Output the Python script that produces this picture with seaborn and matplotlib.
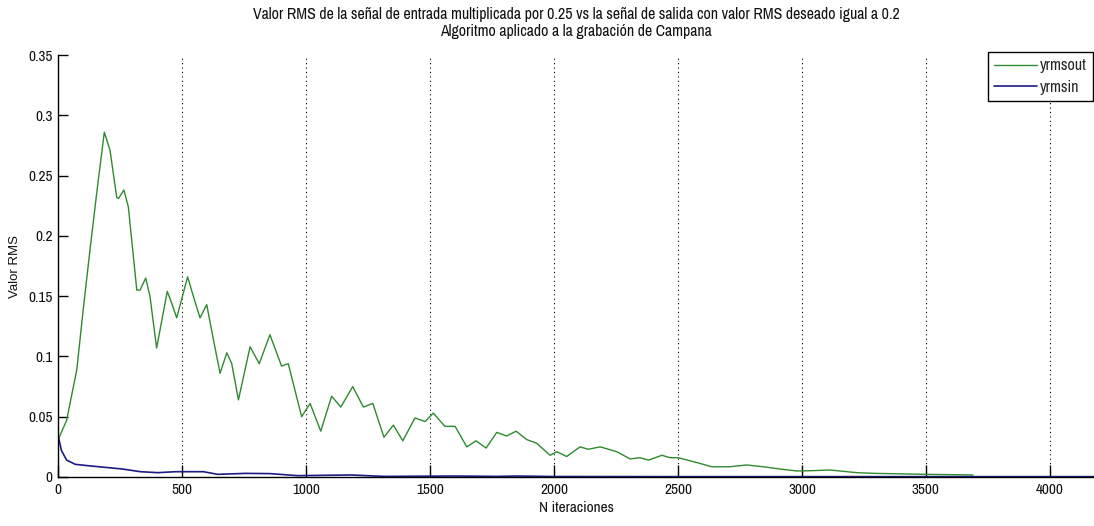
import numpy as np
import pandas as pd
import matplotlib
matplotlib.use("Agg")
import matplotlib.pyplot as plt
from matplotlib import font_manager
import seaborn as sns

# ---- data ----
out_x = [0, 34, 75, 101, 128, 155, 186, 209, 236, 243, 265, 283, 317, 330, 353, 370, 397,
         440, 458, 478, 522, 545, 572, 599, 626, 653, 680, 700, 727, 774, 811, 854, 901, 928,
         982, 1016, 1059, 1103, 1140, 1188, 1231, 1269, 1314, 1352, 1390, 1439, 1480, 1513,
         1560, 1601, 1648, 1685, 1726, 1769, 1809, 1847, 1890, 1930, 1984, 2011, 2051, 2105,
         2138, 2186, 2253, 2307, 2347, 2381, 2435, 2468, 2501, 2576, 2636, 2710, 2777, 2844,
         2912, 2979, 3033, 3113, 3221, 3295, 3503, 3690]
out_y = [0.031, 0.047, 0.089, 0.139, 0.188, 0.235, 0.286, 0.271, 0.232, 0.231, 0.238, 0.224,
         0.155, 0.155, 0.165, 0.150, 0.107, 0.154, 0.144, 0.132, 0.166, 0.150, 0.132, 0.143,
         0.114, 0.086, 0.103, 0.094, 0.064, 0.108, 0.094, 0.118, 0.092, 0.094, 0.050, 0.061,
         0.038, 0.067, 0.058, 0.075, 0.058, 0.061, 0.033, 0.043, 0.030, 0.049, 0.046, 0.053,
         0.042, 0.042, 0.025, 0.030, 0.024, 0.037, 0.034, 0.038, 0.031, 0.028, 0.018, 0.021,
         0.017, 0.025, 0.023, 0.025, 0.021, 0.015, 0.016, 0.014, 0.018, 0.016, 0.016, 0.012,
         0.0085, 0.0085, 0.010, 0.0085, 0.0066, 0.005, 0.0052, 0.0058, 0.0036, 0.003, 0.0022,
         0.0017]

in_x = [0, 13, 34, 69, 119, 190, 260, 331, 402, 473, 586, 643, 756, 855, 967, 1180, 1315,
        1595, 1768, 1852, 2000, 2500, 3000, 3500, 4000, 4255]
in_y = [0.034, 0.022, 0.014, 0.0105, 0.0094, 0.008, 0.0066, 0.0044, 0.0036, 0.0044, 0.0044,
        0.0022, 0.003, 0.0028, 0.0011, 0.0017, 0.0005, 0.0008, 0.0005, 0.0008, 0.0004,
        0.0003, 0.0003, 0.0003, 0.0003, 0.0003]

x_ticks = [0, 500, 1000, 1500, 2000, 2500, 3000, 3500, 4000]
x_ticklabels = ["0", "500", "1000", "1500", "2000", "2500", "3000", "3500", "4000"]
y_ticks = [0, 0.05, 0.1, 0.15, 0.2, 0.25, 0.3, 0.35]
y_ticklabels = ["0", "0.05", "0.1", "0.15", "0.2", "0.25", "0.3", "0.35"]

title = ("Valor RMS de la señal de entrada multiplicada por 0.25 vs la señal de salida con "
         "valor RMS deseado igual a 0.2\nAlgoritmo aplicado a la grabación de Campana")

sns.set_theme(style="white")

# pick a narrow / condensed face if one is installed
narrow = None
narrow_stretch = "normal"
for f in font_manager.fontManager.ttflist:
    n = f.name
    if "Narrow" in n or "Condensed" in n:
        narrow, narrow_stretch = n, "normal"
        break
if narrow is None:
    for f in font_manager.fontManager.ttflist:
        st = f.stretch
        if (isinstance(st, str) and "condensed" in st) or (isinstance(st, (int, float)) and st < 500):
            if f.name in ("DejaVu Sans", "Liberation Sans", "Roboto", "Open Sans", "Noto Sans"):
                narrow, narrow_stretch = f.name, st
                break
if narrow is None:
    narrow, narrow_stretch = "Liberation Sans", "normal"

plt.rcParams['font.family'] = [narrow, 'DejaVu Sans']
plt.rcParams['font.stretch'] = narrow_stretch

fig = plt.figure(figsize=(10.94, 5.26), dpi=100)
W, H = 1094, 526
left, right, top, bottom = 58.2, 1094, 55, 477
ax = fig.add_axes([left / W, 1 - bottom / H, (right - left) / W, (bottom - top) / H])

sns.lineplot(x=out_x, y=out_y, ax=ax, color="#2f8a2f", linewidth=1.0, label="yrmsout",
             estimator=None, sort=False)
sns.lineplot(x=in_x, y=in_y, ax=ax, color="#1c1c85", linewidth=1.2, label="yrmsin",
             estimator=None, sort=False)

ax.set_xlim(0, 4178)
ax.set_ylim(0, 0.35)
ax.set_xticks(x_ticks)
ax.set_xticklabels(x_ticklabels)
ax.set_yticks(y_ticks)
ax.set_yticklabels(y_ticklabels)

for s in ["top", "right"]:
    ax.spines[s].set_visible(False)
for s in ["left", "bottom"]:
    ax.spines[s].set_color("black")
    ax.spines[s].set_linewidth(1.0)

ax.tick_params(axis="x", direction="in", length=9, width=1, color="black",
               labelsize=11, pad=4, labelcolor="#111111")
ax.tick_params(axis="y", direction="in", length=7, width=1, color="black",
               labelsize=11, pad=4, labelcolor="#111111")
ax.tick_params(axis="y", which="major", left=True)
ax.tick_params(axis="x", which="major", bottom=True)

ax.xaxis.grid(True, linestyle=(0, (1, 3)), color="black", linewidth=0.8)
ax.yaxis.grid(False)

ax.set_xlabel("N iteraciones", fontsize=11, labelpad=3, color="#111111")
ax.set_ylabel("Valor RMS", fontsize=9.5, labelpad=5, color="#111111",
              family=['Liberation Sans', 'DejaVu Sans'], fontstretch="normal")
ax.set_title(title, fontsize=11.4, pad=14, color="#111111", linespacing=1.15)

leg = ax.legend(loc="upper right", bbox_to_anchor=(1093 / W, 1 - 52 / H),
                bbox_transform=fig.transFigure, frameon=True, fancybox=False,
                edgecolor="black", framealpha=1, fontsize=11.5, handlelength=2.7,
                handletextpad=0.15, borderpad=0.4, labelspacing=0.4, borderaxespad=0)
leg.get_frame().set_linewidth(1.0)

fig.savefig("out.png", dpi=100)
